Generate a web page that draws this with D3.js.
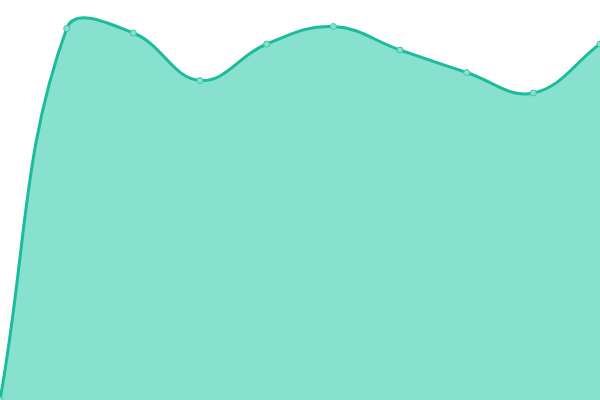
<!DOCTYPE html>
<html>
<head>
<meta charset="utf-8">
<script src="https://cdn.jsdelivr.net/npm/d3@7"></script>
<style>
  html, body { margin: 0; padding: 0; background: #fff; }
  svg { display: block; }
</style>
</head>
<body>
<svg id="chart" width="600" height="400"></svg>
<script>
// data
const categories = [0, 1, 2, 3, 4, 5, 6, 7, 8, 9];
const values = [0, 371.5, 367, 319.5, 356, 373.5, 350, 327.5, 307, 356];

const width = 600;
const height = 400;

// Spline with tension: each point's control handles run along (next - prev),
// split by the lengths of the two neighbouring segments. At the ends the
// missing neighbour is the point itself.
function TensionCurve(context, tension) {
  this._context = context;
  this._tension = tension;
}

TensionCurve.prototype = {
  areaStart() { this._line = 0; },
  areaEnd() { this._line = NaN; },
  lineStart() { this._pts = []; },
  point(x, y) { this._pts.push([+x, +y]); },
  lineEnd() {
    const p = this._pts;
    const ctx = this._context;
    const n = p.length;
    const t = this._tension;
    if (n) {
      if (this._line) ctx.lineTo(p[0][0], p[0][1]);
      else ctx.moveTo(p[0][0], p[0][1]);

      const cps = [];
      for (let i = 0; i < n; i++) {
        const cur = p[i];
        const prev = p[Math.max(i - 1, 0)];
        const next = p[Math.min(i + 1, n - 1)];
        const d01 = Math.hypot(cur[0] - prev[0], cur[1] - prev[1]);
        const d12 = Math.hypot(next[0] - cur[0], next[1] - cur[1]);
        let s01 = d01 / (d01 + d12);
        let s12 = d12 / (d01 + d12);
        if (isNaN(s01)) s01 = 0;
        if (isNaN(s12)) s12 = 0;
        const vx = next[0] - prev[0];
        const vy = next[1] - prev[1];
        cps.push({
          before: [cur[0] - t * s01 * vx, cur[1] - t * s01 * vy],
          after: [cur[0] + t * s12 * vx, cur[1] + t * s12 * vy]
        });
      }
      for (let i = 0; i < n - 1; i++) {
        const c1 = cps[i].after;
        const c2 = cps[i + 1].before;
        ctx.bezierCurveTo(c1[0], c1[1], c2[0], c2[1], p[i + 1][0], p[i + 1][1]);
      }
    }
    if (this._line || (this._line !== 0 && n === 1)) ctx.closePath();
    this._line = 1 - this._line;
  }
};

const curveTension = (context) => new TensionCurve(context, 0.4);

const svg = d3.select("#chart");

const x = d3.scaleLinear()
  .domain(d3.extent(categories))
  .range([0, width]);

const y = d3.scaleLinear()
  .domain([0, 400])
  .range([height, 0]);

const data = categories.map((c, i) => ({ cat: c, value: values[i] }));

const area = d3.area()
  .curve(curveTension)
  .x((d) => x(d.cat))
  .y0(y(0))
  .y1((d) => y(d.value));

const line = d3.line()
  .curve(curveTension)
  .x((d) => x(d.cat))
  .y((d) => y(d.value));

svg.append("path")
  .datum(data)
  .attr("fill", "#88e0cf")
  .attr("d", area);

svg.append("path")
  .datum(data)
  .attr("fill", "none")
  .attr("stroke", "#1abc9c")
  .attr("stroke-width", 3)
  .attr("d", line);

svg.selectAll(".dot")
  .data(data)
  .join("circle")
  .attr("class", "dot")
  .attr("cx", (d) => x(d.cat))
  .attr("cy", (d) => y(d.value))
  .attr("r", 3)
  .attr("fill", "#88e0cf")
  .attr("stroke", "#3cc8a8")
  .attr("stroke-width", 1);
</script>
</body>
</html>
